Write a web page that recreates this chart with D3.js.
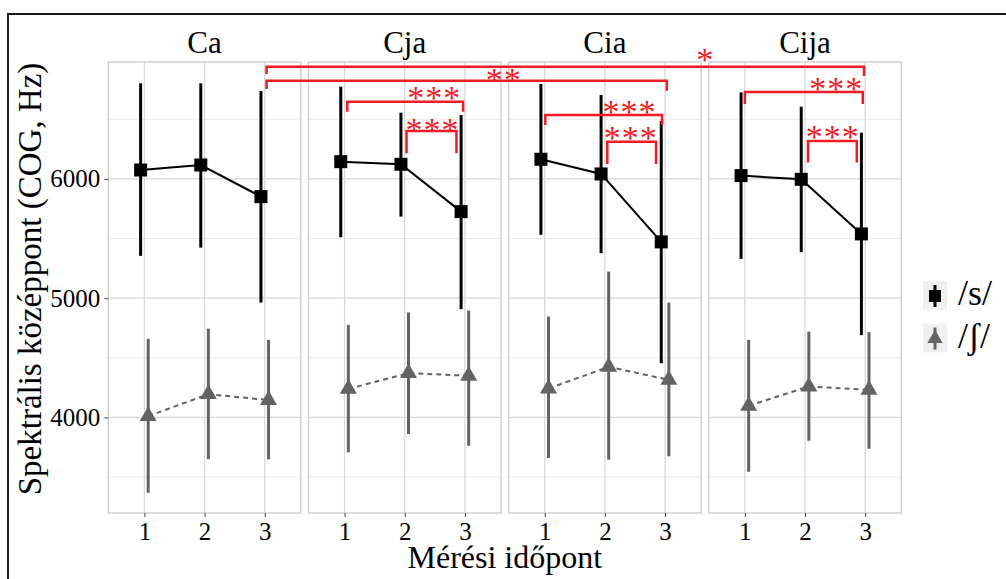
<!DOCTYPE html>
<html>
<head>
<meta charset="utf-8">
<script src="https://cdn.jsdelivr.net/npm/d3@7"></script>
<style>
	body { margin: 0; background: #fff; }
	text { font-family: "Liberation Serif", "DejaVu Serif", serif; }
</style>
</head>
<body>
<script>
	// facets and time points
	var groups = ["Ca", "Cja", "Cia", "Cija"];
	var times = [1, 2, 3];
	var yTicks = [4000, 5000, 6000];
	var yMinor = [3500, 4500, 5500, 6500];

	// /s/ : mean and interval, one row per facet
	var sMean = [[6075, 6117, 5852], [6145, 6123, 5726], [6165, 6042, 5472], [6028, 5997, 5539]];
	var sLow  = [[5355, 5424, 4963], [5511, 5684, 4908], [5531, 5377, 4455], [5329, 5386, 4690]];
	var sHigh = [[6802, 6802, 6738], [6774, 6556, 6536], [6796, 6704, 6486], [6726, 6606, 6388]];

	// /ʃ/
	var shMean = [[4010, 4195, 4145], [4239, 4371, 4349], [4242, 4424, 4315], [4097, 4259, 4231]];
	var shLow  = [[3368, 3650, 3648], [3707, 3860, 3762], [3659, 3645, 3673], [3544, 3804, 3737]];
	var shHigh = [[4659, 4744, 4650], [4776, 4880, 4896], [4846, 5223, 4963], [4650, 4720, 4715]];

	// significance brackets: [facet1, x1, facet2, x2, y, drop1, drop2, label, labelFacet, labelX, labelY]
	var brackets = [
		[0, 3.03, 3, 2.98, 6941, 6880, 6863, "*", 3, 0.34, 7039],
		[0, 3.03, 2, 3.03, 6824, 6754, 6740, "**", 2, 0.32, 6872],
		[1, 1.045, 1, 2.97, 6648, 6564, 6564, "***", 1, 2.49, 6721],
		[1, 2.03, 1, 2.86, 6402, 6215, 6215, "***", 1, 2.46, 6453],
		[2, 1.01, 2, 2.95, 6536, 6453, 6453, "***", 2, 2.41, 6606],
		[2, 2.04, 2, 2.85, 6313, 6126, 6126, "***", 2, 2.43, 6383],
		[3, 1.0, 3, 2.96, 6729, 6629, 6629, "***", 3, 2.52, 6796],
		[3, 2.05, 3, 2.86, 6319, 6137, 6137, "***", 3, 2.46, 6396]
	];

	var W = 1006, H = 579;
	var plotTop = 62, plotBottom = 513;
	var dodge = 0.063;
	var sColor = "#000", shColor = "#636363", red = "#ee1c25";
	var starSize = 34;

	var svg = d3.select("body").append("svg")
		.attr("width", W)
		.attr("height", H);

	// frame (top and left edges only)
	svg.append("path")
		.attr("d", "M8," + H + "V14H" + W)
		.attr("fill", "none")
		.attr("stroke", "#1a1a1a")
		.attr("stroke-width", 2);

	var facet = d3.scaleBand()
		.domain(groups)
		.range([108.3, 901.3])
		.paddingInner(0.038)
		.paddingOuter(0);

	var y = d3.scaleLinear().domain([3198, 6981]).range([plotBottom, plotTop]);

	function xScale(i) {
		var left = facet(groups[i]);
		return d3.scaleLinear().domain([0.4, 3.6]).range([left, left + facet.bandwidth()]);
	}

	groups.forEach(function(g, i) {
		var x = xScale(i);
		var p = svg.append("g");

		// grid
		p.selectAll(".minor").data(yMinor).enter().append("line")
			.attr("x1", x(0.4)).attr("x2", x(3.6))
			.attr("y1", function(d) { return y(d); })
			.attr("y2", function(d) { return y(d); })
			.attr("stroke", "#ebebeb").attr("stroke-width", 1);
		p.selectAll(".major").data(yTicks).enter().append("line")
			.attr("x1", x(0.4)).attr("x2", x(3.6))
			.attr("y1", function(d) { return y(d); })
			.attr("y2", function(d) { return y(d); })
			.attr("stroke", "#d9d9d9").attr("stroke-width", 1.3);
		p.selectAll(".vgrid").data(times).enter().append("line")
			.attr("x1", function(d) { return x(d); })
			.attr("x2", function(d) { return x(d); })
			.attr("y1", plotTop).attr("y2", plotBottom)
			.attr("stroke", "#d9d9d9").attr("stroke-width", 1.3);

		p.append("rect")
			.attr("x", x(0.4)).attr("y", plotTop)
			.attr("width", facet.bandwidth()).attr("height", plotBottom - plotTop)
			.attr("fill", "none").attr("stroke", "#cfcfcf").attr("stroke-width", 1.4);

		// x axis
		var xa = p.append("g")
			.attr("transform", "translate(0," + plotBottom + ")")
			.call(d3.axisBottom(x).tickValues(times).tickSize(4).tickPadding(5).tickFormat(d3.format("d")));
		xa.select(".domain").remove();
		xa.selectAll("line").attr("stroke", "#444").attr("stroke-width", 1);
		xa.selectAll("text")
			.style("font-family", "Liberation Serif")
			.style("font-size", "25px")
			.attr("fill", "#000");

		// strip
		p.append("text")
			.attr("x", x(2)).attr("y", 53)
			.attr("text-anchor", "middle")
			.style("font-size", "31px")
			.text(g);

		// /ʃ/ series
		var shPts = times.map(function(t, j) { return [x(t + dodge), y(shMean[i][j])]; });
		p.append("path")
			.attr("d", d3.line()(shPts))
			.attr("fill", "none").attr("stroke", shColor)
			.attr("stroke-width", 2).attr("stroke-dasharray", "5,4");
		p.selectAll(".shbar").data(times).enter().append("line")
			.attr("x1", function(t) { return x(t + dodge); })
			.attr("x2", function(t) { return x(t + dodge); })
			.attr("y1", function(t, j) { return y(shLow[i][j]); })
			.attr("y2", function(t, j) { return y(shHigh[i][j]); })
			.attr("stroke", shColor).attr("stroke-width", 3);
		p.selectAll(".shpt").data(times).enter().append("path")
			.attr("d", d3.symbol().type(d3.symbolTriangle).size(125))
			.attr("transform", function(t, j) { return "translate(" + x(t + dodge) + "," + y(shMean[i][j]) + ")"; })
			.attr("fill", shColor);

		// /s/ series
		var sPts = times.map(function(t, j) { return [x(t - dodge), y(sMean[i][j])]; });
		p.append("path")
			.attr("d", d3.line()(sPts))
			.attr("fill", "none").attr("stroke", sColor).attr("stroke-width", 2);
		p.selectAll(".sbar").data(times).enter().append("line")
			.attr("x1", function(t) { return x(t - dodge); })
			.attr("x2", function(t) { return x(t - dodge); })
			.attr("y1", function(t, j) { return y(sLow[i][j]); })
			.attr("y2", function(t, j) { return y(sHigh[i][j]); })
			.attr("stroke", sColor).attr("stroke-width", 3);
		p.selectAll(".spt").data(times).enter().append("rect")
			.attr("x", function(t) { return x(t - dodge) - 6.5; })
			.attr("y", function(t, j) { return y(sMean[i][j]) - 6.5; })
			.attr("width", 13).attr("height", 13)
			.attr("fill", sColor);
	});

	// y axis on first facet
	var ya = svg.append("g")
		.attr("transform", "translate(" + xScale(0)(0.4) + ",0)")
		.call(d3.axisLeft(y).tickValues(yTicks).tickSize(4).tickPadding(4).tickFormat(d3.format("d")));
	ya.select(".domain").remove();
	ya.selectAll("line").attr("stroke", "#444");
	ya.selectAll("text")
		.style("font-family", "Liberation Serif")
		.style("font-size", "25px")
		.attr("fill", "#000");

	// axis titles
	svg.append("text")
		.attr("x", (facet.range()[0] + facet.range()[1]) / 2).attr("y", 568)
		.attr("text-anchor", "middle")
		.style("font-size", "32px")
		.text("Mérési időpont");
	svg.append("text")
		.attr("transform", "translate(41," + 279 + ") rotate(-90)")
		.attr("text-anchor", "middle")
		.style("font-size", "33px")
		.text("Spektrális középpont (COG, Hz)");

	// significance brackets
	var bg = svg.append("g");
	brackets.forEach(function(b) {
		var xa = xScale(b[0])(b[1]), xb = xScale(b[2])(b[3]);
		bg.append("path")
			.attr("d", "M" + xa + "," + y(b[5]) + "V" + y(b[4]) + "H" + xb + "V" + y(b[6]))
			.attr("fill", "none").attr("stroke", red).attr("stroke-width", 2.5);
		bg.append("text")
			.attr("x", xScale(b[8])(b[9]))
			.attr("y", y(b[10]) + starSize * 0.47)
			.attr("text-anchor", "middle")
			.style("font-size", starSize + "px")
			.style("letter-spacing", "1px")
			.attr("fill", red)
			.text(b[7]);
	});

	// legend
	var legend = [
		{ label: "/s/", color: sColor, shape: "square" },
		{ label: "/ʃ/", color: shColor, shape: "triangle" }
	];
	var lg = svg.append("g").attr("transform", "translate(923,281)");
	legend.forEach(function(d, k) {
		var g = lg.append("g").attr("transform", "translate(0," + (k * 42.5) + ")");
		g.append("rect").attr("width", 24).attr("height", 29).attr("fill", "#f0f0f0");
		g.append("line")
			.attr("x1", 12).attr("x2", 12).attr("y1", 4).attr("y2", 26)
			.attr("stroke", d.color).attr("stroke-width", 3);
		if (d.shape === "square") {
			g.append("rect").attr("x", 6).attr("y", 9).attr("width", 12).attr("height", 12).attr("fill", d.color);
		} else {
			g.append("path")
				.attr("d", d3.symbol().type(d3.symbolTriangle).size(100))
				.attr("transform", "translate(12,15)")
				.attr("fill", d.color);
		}
		g.append("text")
			.attr("x", 35).attr("y", 24)
			.style("font-size", "36px")
			.text(d.label);
	});
</script>
</body>
</html>
